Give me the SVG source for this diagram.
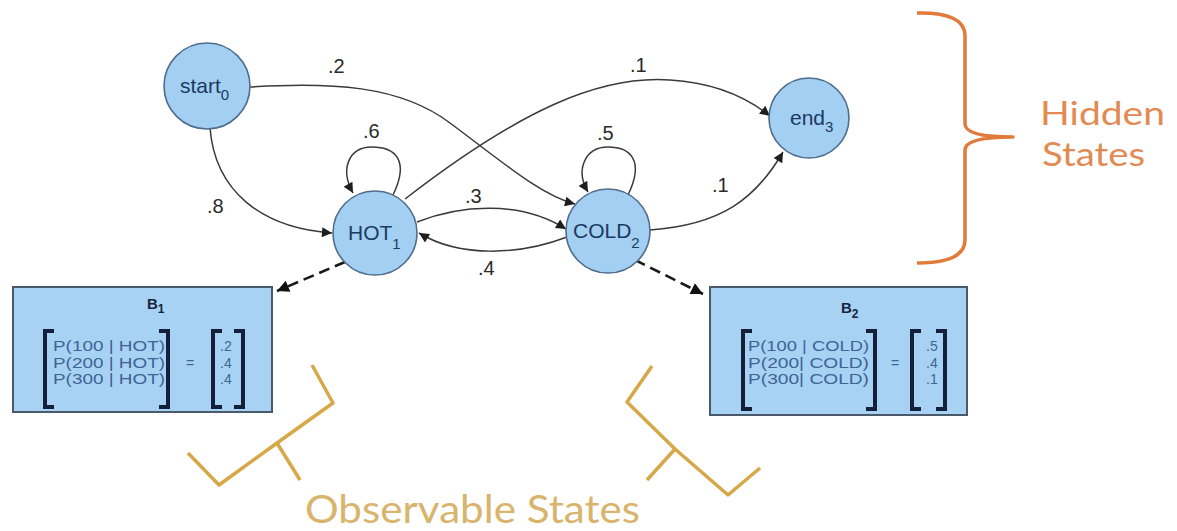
<svg xmlns="http://www.w3.org/2000/svg" width="1177" height="531" viewBox="0 0 1177 531">
<style>
.node{fill:#a3cff3;stroke:#4f6d8c;stroke-width:1.6}
.nl{font-family:"Liberation Sans",Arial,sans-serif;font-size:21px;fill:#1d3a60}
.sub{font-size:15px}
.edge{fill:none;stroke:#3a3a3a;stroke-width:1.5}
.dash{fill:none;stroke:#1a1a1a;stroke-width:2.6;stroke-dasharray:11 6}
.el{font-family:"Liberation Sans",Arial,sans-serif;font-size:20px;fill:#2a2a2a}
.box{fill:#a8d2f4;stroke:#4a5a6a;stroke-width:2}
.bt{font-family:"Liberation Sans",Arial,sans-serif;font-size:15px;font-weight:bold;fill:#16243c}
.pt{font-family:"Liberation Sans",Arial,sans-serif;font-size:14px;fill:#3d6494}
.vt{font-family:"Liberation Sans",Arial,sans-serif;font-size:14px;fill:#3d6494}
.brk{fill:none;stroke:#14203a;stroke-width:4}
.hid{fill:none;stroke:#e07b3c;stroke-width:3.5;stroke-linejoin:round}
.obs{fill:none;stroke:#d6a847;stroke-width:3.5;stroke-linejoin:round}
.ht{font-family:Lato,"Open Sans",sans-serif;font-size:33px;fill:#e38a53}
.ot{font-family:Lato,"Open Sans",sans-serif;font-size:38px;fill:#d9b46c}
</style>
<defs>
<marker id="arr" viewBox="0 0 10 10" refX="10" refY="5" markerWidth="12" markerHeight="10" markerUnits="userSpaceOnUse" orient="auto"><path d="M0,0 L10,5 L0,10 z" fill="#1e1e1e"/></marker>
<marker id="arrB" viewBox="0 0 10 10" refX="10" refY="5" markerWidth="15" markerHeight="12" markerUnits="userSpaceOnUse" orient="auto"><path d="M0,0 L10,5 L0,10 z" fill="#111"/></marker>
</defs>
<rect width="1177" height="531" fill="#ffffff"/>

<g id="connectors">
<path class="edge" d="M 210,128 C 215,190 260,228 332,233" marker-end="url(#arr)"/>
<path class="edge" d="M 250,87 C 330,82 400,85 450,123 C 500,160 540,195 575,204" marker-end="url(#arr)"/>
<path class="edge" d="M 405,199 C 520,110 600,75 670,80 C 720,83 750,100 770,116" marker-end="url(#arr)"/>
<path class="edge" d="M 393,195 C 410,160 395,147 372,147 C 348,147 340,170 353,193" marker-end="url(#arr)"/>
<path class="edge" d="M 628,195 C 645,160 630,147 608,147 C 585,147 575,170 588,192" marker-end="url(#arr)"/>
<path class="edge" d="M 417,222 C 460,205 520,200 566,229" marker-end="url(#arr)"/>
<path class="edge" d="M 567,237 C 520,255 460,258 419,233" marker-end="url(#arr)"/>
<path class="edge" d="M 650,230 C 720,225 755,200 783,152" marker-end="url(#arr)"/>
<path class="dash" d="M 345,262 L 277,291" marker-end="url(#arrB)"/>
<path class="dash" d="M 635,260 L 703,294" marker-end="url(#arrB)"/>
<text class="el" x="328" y="73">.2</text>
<text class="el" x="630" y="72">.1</text>
<text class="el" x="363" y="138">.6</text>
<text class="el" x="597" y="140">.5</text>
<text class="el" x="207" y="213">.8</text>
<text class="el" x="465" y="203">.3</text>
<text class="el" x="712" y="192">.1</text>
<text class="el" x="478" y="275">.4</text>
</g>

<g id="start">
<circle class="node" cx="207" cy="86" r="43"/>
<text class="nl" x="180" y="93">start<tspan class="sub" dy="7">0</tspan></text>
</g>
<g id="hot">
<circle class="node" cx="375" cy="233" r="42"/>
<text class="nl" x="348" y="240">HOT<tspan class="sub" dy="9">1</tspan></text>
</g>
<g id="cold">
<circle class="node" cx="608" cy="231" r="42"/>
<text class="nl" x="573" y="238">COLD<tspan class="sub" dy="10">2</tspan></text>
</g>
<g id="end">
<circle class="node" cx="809" cy="118" r="40"/>
<text class="nl" x="790" y="125">end<tspan class="sub" dy="7">3</tspan></text>
</g>

<g id="b1">
<rect class="box" x="13" y="287" width="259" height="125"/>
<text class="bt" x="147" y="309">B<tspan font-size="12" dy="4">1</tspan></text>
<path class="brk" d="M 54,331 L 45,331 L 45,407 L 54,407"/>
<path class="brk" d="M 159,331 L 168,331 L 168,407 L 159,407"/>
<text class="pt" x="53" y="351" textLength="112" lengthAdjust="spacingAndGlyphs">P(100 | HOT)</text>
<text class="pt" x="53" y="367.5" textLength="112" lengthAdjust="spacingAndGlyphs">P(200 | HOT)</text>
<text class="pt" x="53" y="384" textLength="112" lengthAdjust="spacingAndGlyphs">P(300 | HOT)</text>
<text class="vt" x="186" y="368">=</text>
<path class="brk" d="M 222,331 L 213,331 L 213,407 L 222,407"/>
<path class="brk" d="M 234,331 L 243,331 L 243,407 L 234,407"/>
<text class="vt" x="220" y="351">.2</text>
<text class="vt" x="220" y="367.5">.4</text>
<text class="vt" x="220" y="384">.4</text>
</g>

<g id="b2">
<rect class="box" x="710" y="287" width="257" height="128"/>
<text class="bt" x="841" y="313">B<tspan font-size="12" dy="5">2</tspan></text>
<path class="brk" d="M 752,331 L 743,331 L 743,409 L 752,409"/>
<path class="brk" d="M 866,331 L 875,331 L 875,409 L 866,409"/>
<text class="pt" x="748" y="351" textLength="121" lengthAdjust="spacingAndGlyphs">P(100 | COLD)</text>
<text class="pt" x="748" y="367.5" textLength="121" lengthAdjust="spacingAndGlyphs">P(200| COLD)</text>
<text class="pt" x="748" y="384" textLength="121" lengthAdjust="spacingAndGlyphs">P(300| COLD)</text>
<text class="vt" x="891" y="368">=</text>
<path class="brk" d="M 921,331 L 912,331 L 912,409 L 921,409"/>
<path class="brk" d="M 936,331 L 945,331 L 945,409 L 936,409"/>
<text class="vt" x="926" y="351">.5</text>
<text class="vt" x="926" y="367.5">.4</text>
<text class="vt" x="926" y="384">.1</text>
</g>

<g id="hidden-states">
<path class="hid" d="M 917,13 Q 965,12 965,36 L 965,124 Q 965,137 1013,137 Q 965,137 965,150 L 965,240 Q 965,263 917,263"/>
<text class="ht" x="1040" y="125" textLength="125" lengthAdjust="spacingAndGlyphs">Hidden</text>
<text class="ht" x="1042" y="166" textLength="103" lengthAdjust="spacingAndGlyphs">States</text>
</g>

<g id="observable-states">
<path class="obs" d="M 312,365 L 333,403 L 277,443 L 219,485 L 188,453"/>
<path class="obs" d="M 277,443 L 300,480"/>
<path class="obs" d="M 652,366 L 627,402 L 675,449 L 728,495 L 760,468"/>
<path class="obs" d="M 675,449 L 647,480"/>
<text class="ot" x="305" y="523" textLength="335" lengthAdjust="spacingAndGlyphs">Observable States</text>
</g>
</svg>
